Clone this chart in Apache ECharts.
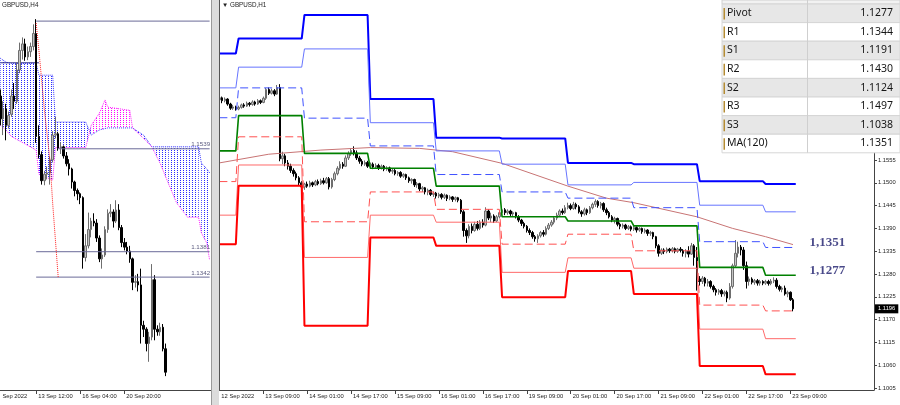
<!DOCTYPE html>
<html><head><meta charset="utf-8">
<script src="https://cdn.jsdelivr.net/npm/echarts@6/dist/echarts.min.js"></script>
<style>html,body{margin:0;padding:0;background:#fff;overflow:hidden}
#wrap{position:relative;width:900px;height:405px;background:#fff}
#left{position:absolute;left:0;top:0;width:219px;height:405px}
#right{position:absolute;left:219px;top:0;width:681px;height:405px}</style>
</head><body><div id="wrap"><div id="left"></div><div id="right"></div></div>
<script>
// All prices below are stored in units of 0.0001 above 1.0000 (1277 -> 1.1277)
const P = v => +(1 + v / 10000).toFixed(5);

// ================= RIGHT CHART: GBPUSD,H1 =================
const rTickLabels = ['12 Sep 2022','13 Sep 09:00','14 Sep 01:00','14 Sep 17:00','15 Sep 09:00','16 Sep 01:00','16 Sep 17:00','19 Sep 09:00','20 Sep 01:00','20 Sep 17:00','21 Sep 09:00','22 Sep 01:00','22 Sep 17:00','23 Sep 09:00'];
const rBarsPerLabel = 16;
const rSlots = 239;
const rPriceTicks = [1.1005,1.1060,1.1115,1.1170,1.1225,1.1280,1.1335,1.1390,1.1445,1.1500,1.1555];
// [open, close, low, high]
const rCandles = [
[1700,1705,1695,1710],[1705,1698,1692,1708],[1698,1702,1694,1706],[1702,1690,1686,1704],[1690,1680,1676,1693],[1680,1683,1676,1688],[1683,1678,1674,1686],[1678,1682,1675,1686],[1682,1688,1679,1691],[1688,1685,1681,1692],
[1685,1692,1683,1696],[1692,1689,1684,1695],[1689,1695,1686,1699],[1695,1690,1686,1698],[1690,1698,1688,1702],[1698,1694,1690,1701],[1694,1704,1692,1708],[1704,1725,1700,1729],[1725,1716,1712,1730],[1716,1722,1713,1727],
[1722,1714,1709,1726],[1714,1730,1712,1736],[1730,1558,1552,1738],[1558,1565,1545,1575],[1565,1548,1540,1570],[1548,1540,1532,1555],[1540,1530,1524,1546],[1530,1522,1515,1535],[1522,1512,1506,1527],[1512,1500,1494,1516],
[1500,1490,1484,1504],[1490,1497,1483,1500],[1497,1492,1488,1503],[1492,1500,1489,1505],[1500,1495,1490,1503],[1495,1503,1492,1507],[1503,1498,1494,1508],[1498,1505,1495,1510],[1505,1500,1496,1512],[1500,1510,1498,1514],
[1510,1490,1484,1514],[1490,1508,1486,1512],[1508,1522,1504,1527],[1522,1535,1518,1540],[1535,1545,1530,1552],[1545,1540,1534,1550],[1540,1560,1538,1566],[1560,1570,1555,1576],[1570,1578,1565,1584],[1578,1572,1566,1588],
[1572,1560,1555,1578],[1560,1552,1546,1565],[1552,1545,1540,1557],[1545,1549,1541,1554],[1549,1540,1536,1553],[1540,1545,1536,1549],[1545,1538,1533,1549],[1538,1542,1534,1547],[1542,1536,1531,1546],[1536,1540,1532,1544],
[1540,1533,1528,1543],[1533,1536,1529,1540],[1536,1528,1524,1539],[1528,1530,1522,1534],[1530,1522,1518,1533],[1522,1525,1517,1528],[1525,1516,1512,1528],[1516,1520,1512,1523],[1520,1512,1507,1522],[1512,1505,1500,1515],
[1505,1508,1498,1511],[1508,1495,1490,1510],[1495,1498,1488,1502],[1498,1485,1480,1500],[1485,1488,1478,1492],[1488,1478,1472,1490],[1478,1482,1470,1486],[1482,1472,1468,1485],[1472,1475,1466,1479],[1475,1468,1462,1478],
[1468,1472,1463,1476],[1472,1465,1460,1475],[1465,1470,1461,1474],[1470,1462,1456,1472],[1462,1466,1458,1470],[1466,1460,1454,1468],[1460,1464,1455,1467],[1464,1458,1453,1466],[1458,1430,1425,1461],[1430,1385,1370,1434],
[1385,1372,1355,1390],[1372,1395,1366,1400],[1395,1385,1378,1402],[1385,1400,1382,1406],[1400,1390,1385,1408],[1390,1405,1386,1410],[1405,1398,1392,1412],[1398,1432,1395,1441],[1432,1415,1410,1436],[1415,1420,1405,1428],
[1420,1408,1403,1424],[1408,1418,1405,1422],[1418,1428,1414,1433],[1428,1435,1422,1440],[1435,1428,1422,1439],[1428,1432,1423,1436],[1432,1425,1420,1435],[1425,1428,1418,1431],[1428,1418,1414,1430],[1418,1410,1405,1422],
[1410,1402,1396,1413],[1402,1395,1390,1406],[1395,1385,1380,1398],[1385,1380,1374,1390],[1380,1370,1365,1384],[1370,1365,1358,1374],[1365,1372,1355,1376],[1372,1380,1368,1384],[1380,1376,1370,1386],[1376,1390,1373,1395],
[1390,1398,1386,1403],[1398,1405,1394,1410],[1405,1415,1400,1420],[1415,1422,1410,1428],[1422,1432,1418,1436],[1432,1428,1423,1438],[1428,1440,1425,1446],[1440,1445,1436,1452],[1445,1438,1434,1450],[1438,1448,1435,1454],
[1448,1442,1436,1452],[1442,1430,1426,1446],[1430,1425,1418,1434],[1425,1435,1421,1440],[1435,1428,1422,1438],[1428,1440,1425,1444],[1440,1448,1436,1452],[1448,1455,1442,1460],[1455,1445,1440,1458],[1445,1450,1438,1454],
[1450,1435,1430,1453],[1435,1428,1422,1440],[1428,1418,1414,1432],[1418,1410,1405,1422],[1410,1414,1402,1418],[1414,1400,1395,1416],[1400,1395,1388,1404],[1395,1398,1390,1402],[1398,1390,1386,1401],[1390,1394,1386,1398],
[1394,1388,1383,1397],[1388,1392,1384,1396],[1392,1386,1380,1395],[1386,1390,1382,1393],[1390,1382,1377,1392],[1382,1386,1378,1390],[1386,1378,1372,1388],[1378,1380,1372,1384],[1380,1370,1364,1382],[1370,1348,1342,1372],
[1348,1330,1322,1352],[1330,1338,1326,1342],[1338,1334,1328,1342],[1334,1340,1330,1344],[1340,1336,1331,1343],[1336,1341,1332,1345],[1341,1335,1330,1344],[1335,1340,1331,1343],[1340,1337,1332,1345],[1337,1330,1322,1340],
[1330,1335,1320,1340],[1335,1328,1320,1347],[1328,1348,1326,1355],[1348,1320,1300,1352],[1320,1268,1240,1345],[1268,1262,1252,1275],[1262,1270,1256,1275],[1270,1258,1250,1273],[1258,1262,1250,1268],[1262,1250,1245,1265],
[1250,1242,1236,1254],[1242,1236,1228,1246],[1236,1240,1230,1244],[1240,1232,1225,1244],[1232,1236,1226,1240],[1236,1222,1212,1240],[1222,1250,1218,1258],[1250,1300,1245,1305],[1300,1330,1295,1362],[1330,1345,1320,1358],
[1345,1338,1325,1350],[1338,1300,1290,1345],[1300,1262,1245,1310],[1262,1268,1252,1274],[1268,1260,1255,1272],[1260,1264,1254,1268],[1264,1258,1252,1268],[1258,1262,1252,1266],[1262,1258,1253,1265],[1258,1262,1254,1266],
[1262,1257,1252,1266],[1257,1263,1253,1268],[1263,1265,1258,1272],[1265,1250,1245,1270],[1250,1243,1238,1254],[1243,1246,1236,1250],[1246,1232,1228,1252],[1232,1236,1224,1240],[1236,1218,1215,1238],[1218,1196,1190,1222]
];
// daily pivot levels (one value per trading day)
const dayStart = [0,7,31,55,79,103,127,151,175,199];
const dayEnd   = [6,30,54,78,102,126,150,174,198,210];
const lvR3 = [1812,1848,1905,1702,1609,1607,1548,1545,1504,1497];
const lvR2 = [1729,1779,1823,1645,1577,1545,1495,1501,1446,1430];
const lvR1 = [1657,1729,1656,1589,1520,1478,1463,1440,1358,1344];
const lvP  = [1577,1662,1571,1535,1492,1418,1408,1396,1296,1277];
const lvS1 = [1503,1611,1406,1478,1436,1352,1376,1336,1205,1191];
const lvS2 = [1422,1543,1320,1422,1405,1284,1319,1294,1147,1124];
const lvS3 = [1352,1493,1155,1368,1348,1224,1287,1232,1058,1038];
// MA(120) read at bar indices
const maIdx = [0,18,37,55,73,85,103,127,141,151,174,187,199,209];
const maVal = [1548,1569,1579,1585,1583,1575,1547,1492,1463,1452,1418,1390,1370,1351];
// right side annotations
const annotVals = [1351, 1277];
// table
const tableNames  = ['Pivot','R1','S1','R2','S2','R3','S3','MA(120)'];
const tableValues = ['1.1277','1.1344','1.1191','1.1430','1.1124','1.1497','1.1038','1.1351'];

// ================= LEFT CHART: GBPUSD,H4 =================
const lTickIdx = [0,13,29,45];
const lTickLabels = ['Sep 2022','13 Sep 12:00','16 Sep 04:00','20 Sep 20:00'];
const lSlots = 77;
const lCandles = [
[1620,1585,1575,1630],[1585,1600,1560,1612],[1600,1575,1552,1608],[1575,1590,1570,1596],[1592,1620,1588,1630],[1620,1612,1600,1640],[1612,1660,1608,1672],[1660,1690,1655,1702],[1690,1700,1676,1710],[1700,1680,1674,1708],
[1680,1688,1675,1696],[1688,1696,1680,1702],[1696,1716,1690,1730],[1716,1558,1548,1738],[1558,1530,1524,1575],[1530,1490,1484,1535],[1490,1500,1483,1505],[1500,1502,1492,1512],[1502,1522,1484,1527],[1522,1560,1518,1566],
[1560,1562,1555,1588],[1562,1540,1536,1565],[1540,1542,1531,1549],[1542,1528,1524,1544],[1528,1516,1512,1534],[1516,1508,1498,1523],[1508,1488,1478,1510],[1488,1475,1466,1490],[1475,1470,1460,1478],[1470,1464,1454,1472],
[1464,1372,1355,1466],[1372,1390,1366,1408],[1390,1415,1386,1441],[1415,1428,1403,1433],[1428,1425,1420,1440],[1425,1402,1396,1431],[1402,1370,1365,1406],[1370,1376,1355,1386],[1376,1415,1373,1420],[1415,1440,1410,1446],
[1440,1442,1434,1454],[1442,1428,1418,1446],[1428,1445,1425,1460],[1445,1418,1414,1454],[1418,1395,1388,1422],[1395,1388,1383,1402],[1388,1382,1377,1396],[1382,1370,1364,1390],[1370,1334,1322,1372],[1334,1335,1326,1345],
[1335,1330,1320,1347],[1330,1268,1240,1355],[1268,1262,1250,1275],[1262,1240,1228,1265],[1240,1250,1212,1258],[1250,1338,1245,1362],[1338,1262,1245,1345],[1262,1258,1252,1268],[1258,1265,1252,1272],[1265,1232,1228,1270],
[1232,1196,1190,1240]
];
// Ichimoku cloud spans at break points
const cloudK    = [0,2,4,13,14,19,20,31,33,36,38,39,47,48,52,55,58,61,64,66,68,72,73,75,76];
const cloudBlue = [1678,1672,1670,1670,1652,1652,1580,1580,1560,1568,1570,1571,1571,1571,1560,1542,1542,1542,1542,1542,1542,1542,1517,1508,1502];
const cloudMag  = [1575,1568,1558,1537,1500,1491,1541,1541,1575,1594,1614,1603,1598,1571,1555,1542,1517,1486,1456,1445,1434,1434,1410,1394,1368];
// horizontal levels on the H4 chart
const lLevels    = [1735,1539,1381,1342];
const lLevelFrom = [13,21,13,13];
const lLevelText = ['','1.1539','1.1381','1.1342'];
// red dotted line and navy line
const lRedIdx = [13,14,16,18,19,21];
const lRedVal = [1732,1690,1598,1522,1455,1342];
const lNavyIdx = [0,14];
const lNavyVal = [1671,1671];

// ---------------- build ----------------
const FONT = 'Liberation Sans';
function dotPattern(color) {
  const c = document.createElement('canvas'); c.width = 3; c.height = 2;
  const g = c.getContext('2d'); g.fillStyle = color; g.fillRect(0, 0, 1, 1);
  return { image: c, repeat: 'repeat' };
}
const bluePat = dotPattern('#2a2aff');
const magPat = dotPattern('#ff00ff');
const rCats = Array.from({ length: rSlots }, (_, i) => String(i));
const lCats = Array.from({ length: lSlots }, (_, i) => String(i));
const candleStyle = { color: '#c4c4c4', color0: '#000000', borderColor: '#6e6e6e', borderColor0: '#000000', borderWidth: 1 };
const axisTxt = { fontSize: 5.8, fontFamily: FONT, color: '#222' };
const lastClose = P(rCandles[rCandles.length - 1][1]);

function stepLine(vals) {
  const out = [];
  for (let d = 0; d < dayStart.length; d++) {
    out.push([dayStart[d], P(vals[d])]);
    out.push([dayEnd[d], P(vals[d])]);
  }
  return out;
}
const pivotDefs = [
  { vals: lvR3, color: '#0000ff', width: 2, type: 'solid' },
  { vals: lvR2, color: '#6674ff', width: 1, type: 'solid' },
  { vals: lvR1, color: '#3f52ff', width: 1, type: [8, 4] },
  { vals: lvP,  color: '#008000', width: 1.6, type: 'solid' },
  { vals: lvS1, color: '#ff5050', width: 1, type: [8, 4] },
  { vals: lvS2, color: '#ff6a6a', width: 1, type: 'solid' },
  { vals: lvS3, color: '#ff0000', width: 2, type: 'solid' }
];
const cloudSegs = [];
for (let j = 0; j < cloudK.length - 1; j++) {
  cloudSegs.push([cloudK[j], P(cloudMag[j]), P(cloudBlue[j]), cloudK[j + 1], P(cloudMag[j + 1]), P(cloudBlue[j + 1])]);
}

// ---------- left instance ----------
const lSeries = [];
lSeries.push({
  type: 'custom', data: cloudSegs, silent: true, z: 1, clip: false,
  encode: { x: [0, 3], y: [1, 2, 4, 5] },
  renderItem: (params, api) => {
    const k1 = api.value(0), m1 = api.value(1), b1 = api.value(2), k2 = api.value(3), m2 = api.value(4), b2 = api.value(5);
    const pts = [api.coord([k1, m1]), api.coord([k2, m2]), api.coord([k2, b2]), api.coord([k1, b1])];
    const magTop = (m1 + m2) > (b1 + b2);
    return { type: 'polygon', shape: { points: pts }, style: { fill: magTop ? magPat : bluePat } };
  }
});
lSeries.push({ type: 'line', symbol: 'none', silent: true, z: 2, clip: false,
  data: cloudK.map((k, j) => [k, P(cloudBlue[j])]), lineStyle: { color: '#3b3bff', width: 1, type: 'dotted' } });
lSeries.push({ type: 'line', symbol: 'none', silent: true, z: 2, clip: false,
  data: cloudK.map((k, j) => [k, P(cloudMag[j])]), lineStyle: { color: '#ff22ff', width: 1, type: 'dotted' } });
lSeries.push({ type: 'line', symbol: 'none', silent: true, z: 3, clip: false,
  data: lNavyIdx.map((k, j) => [k, P(lNavyVal[j])]), lineStyle: { color: '#2b2b8a', width: 1 } });
lSeries.push({ type: 'candlestick', barWidth: 2, silent: true, z: 4, clip: false,
  data: lCandles.map(c => c.map(P)), itemStyle: candleStyle });
lLevels.forEach((v, j) => {
  lSeries.push({ type: 'line', symbol: 'none', silent: true, z: 5, clip: false,
    data: [[lLevelFrom[j], P(v)], [lSlots - 1, P(v)]], lineStyle: { color: '#6a6a98', width: 1 } });
});
lSeries.push({ type: 'scatter', symbolSize: 1, silent: true, z: 6, clip: false,
  itemStyle: { color: 'rgba(0,0,0,0)' },
  data: lLevels.map((v, j) => ({ value: [lSlots - 1, P(v)], name: lLevelText[j] })),
  label: { show: true, position: 'left', distance: 0, offset: [1, -4], align: 'right', verticalAlign: 'middle',
    formatter: p => p.name, fontSize: 6.2, fontFamily: FONT, color: '#2e2e5c' } });
lSeries.push({ type: 'line', symbol: 'none', silent: true, z: 6, clip: false,
  data: lRedIdx.map((k, j) => [k, P(lRedVal[j])]), lineStyle: { color: '#ff2020', width: 1, type: 'dotted' } });

const lOption = {
  animation: false,
  backgroundColor: '#ffffff',
  grid: { left: -1, top: 0, width: 212, height: 390, containLabel: false, outerBoundsMode: 'none' },
  xAxis: { type: 'category', data: lCats, boundaryGap: true,
    axisLine: { show: true, lineStyle: { color: '#444', width: 1 } },
    axisTick: { show: true, alignWithLabel: true, length: 4, interval: i => lTickIdx.indexOf(i) > 0, lineStyle: { color: '#444' } },
    axisLabel: Object.assign({ interval: i => lTickIdx.indexOf(i) >= 0, formatter: (v, i) => lTickLabels[lTickIdx.indexOf(i)] || '', align: 'left', margin: 3, padding: [0, 0, 0, 2] }, axisTxt),
    splitLine: { show: false } },
  yAxis: { type: 'value', min: 1.11687, max: 1.17674, show: false, splitLine: { show: false } },
  series: lSeries,
  graphic: [
    { type: 'rect', shape: { x: 211, y: 0, width: 8, height: 405 }, style: { fill: '#dcdcdc' }, z: 90 },
    { type: 'rect', shape: { x: 211, y: 0, width: 1, height: 405 }, style: { fill: '#9a9a9a' }, z: 91 },
    { type: 'text', x: 2, y: 2, style: { text: 'GBPUSD,H4', font: '6.3px "' + FONT + '"', fill: '#222' }, z: 95 }
  ]
};

// ---------- right instance ----------
const rSeries = [];
rSeries.push({ type: 'candlestick', barWidth: 2, silent: true, z: 3, clip: false,
  data: rCandles.map(c => c.map(P)), itemStyle: candleStyle,
  markLine: { silent: true, symbol: ['none', 'none'], animation: false, precision: 4,
    data: [{ yAxis: lastClose }], lineStyle: { color: 'rgba(0,0,0,0)', width: 0 },
    label: { show: true, position: 'end', distance: 1, formatter: () => lastClose.toFixed(4), color: '#fff',
      backgroundColor: '#000', padding: [2, 3, 1, 3], fontSize: 5.8, fontFamily: FONT } } });
rSeries.push({ type: 'line', symbol: 'none', silent: true, z: 4, clip: false,
  data: maIdx.map((k, j) => [k, P(maVal[j])]), lineStyle: { color: '#c87474', width: 1 } });
pivotDefs.forEach(d => {
  rSeries.push({ type: 'line', symbol: 'none', silent: true, z: 5, clip: false,
    data: stepLine(d.vals), lineStyle: { color: d.color, width: d.width, type: d.type } });
});
const annotDy = [-2, -4.5];
rSeries.push({ type: 'scatter', symbolSize: 1, silent: true, z: 6, clip: false,
  itemStyle: { color: 'rgba(0,0,0,0)' },
  data: annotVals.map((v, j) => ({ value: [213, P(v)], label: { offset: [0, annotDy[j]] } })),
  label: { show: true, position: 'right', distance: 5, formatter: p => p.value[1].toFixed(4).replace('.', ','),
    fontFamily: 'Liberation Serif', fontWeight: 'bold', fontSize: 13, color: '#1c1c6c' } });

const OX = 219; // page x of the right instance
const rGraphic = [];
rGraphic.push({ type: 'rect', shape: { x: 0, y: 0, width: 1, height: 391 }, style: { fill: '#555555' }, z: 91 });
rGraphic.push({ type: 'text', x: 3, y: 2, style: { text: '\u25BC GBPUSD,H1', font: '6.3px "' + FONT + '"', fill: '#222' }, z: 95 });
const tX = 722 - OX, tY = 4, tW = 178, rowH = 18.6, divX = 807 - OX;
rGraphic.push({ type: 'rect', shape: { x: tX, y: 0, width: tW, height: tY }, style: { fill: '#f2f2f2', stroke: '#d0d0d0', lineWidth: 1 }, z: 100 });
tableNames.forEach((n, r) => {
  const y = tY + r * rowH;
  rGraphic.push({ type: 'rect', shape: { x: tX, y: y, width: tW, height: rowH }, style: { fill: r % 2 === 0 ? '#e7e7e7' : '#ffffff', stroke: '#d6d6d6', lineWidth: 1 }, z: 100 });
  rGraphic.push({ type: 'rect', shape: { x: tX + 1.5, y: y + 4, width: 1.5, height: rowH - 7 }, style: { fill: '#b48c34' }, z: 101 });
  rGraphic.push({ type: 'text', x: tX + 5, y: y + rowH / 2, style: { text: n, font: '10.5px "Noto Sans"', fill: '#151515', verticalAlign: 'middle', textVerticalAlign: 'middle' }, z: 102 });
  rGraphic.push({ type: 'text', x: tX + 171, y: y + rowH / 2, style: { text: tableValues[r], font: '10.5px "Noto Sans"', fill: '#151515', align: 'right', textAlign: 'right', verticalAlign: 'middle', textVerticalAlign: 'middle' }, z: 102 });
});
rGraphic.push({ type: 'rect', shape: { x: divX, y: 0, width: 1, height: tY + tableNames.length * rowH }, style: { fill: '#cfcfcf' }, z: 101 });

const rOption = {
  animation: false,
  backgroundColor: 'rgba(0,0,0,0)',
  grid: { left: -1, top: 0, width: 656, height: 390, containLabel: false, outerBoundsMode: 'none' },
  xAxis: { type: 'category', data: rCats, boundaryGap: true,
    axisLine: { show: true, lineStyle: { color: '#444', width: 1 } },
    axisTick: { show: true, alignWithLabel: true, length: 4, interval: i => i > 0 && i % rBarsPerLabel === 0 && i / rBarsPerLabel < rTickLabels.length, lineStyle: { color: '#444' } },
    axisLabel: Object.assign({ interval: i => i % rBarsPerLabel === 0 && i / rBarsPerLabel < rTickLabels.length, formatter: (v, i) => rTickLabels[i / rBarsPerLabel] || '', align: 'left', margin: 3, padding: [0, 0, 0, 2] }, axisTxt),
    splitLine: { show: false } },
  yAxis: { type: 'value', position: 'right', min: 1.10002, max: 1.19410,
    axisLine: { show: true, lineStyle: { color: '#444', width: 1 } },
    axisTick: { show: true, length: 3, customValues: rPriceTicks, lineStyle: { color: '#444' } },
    axisLabel: Object.assign({ customValues: rPriceTicks, formatter: v => (+v).toFixed(4), margin: 4 }, axisTxt),
    splitLine: { show: false } },
  series: rSeries,
  graphic: rGraphic
};

const lChart = echarts.init(document.getElementById('left'), null, { renderer: 'canvas' });
lChart.setOption(lOption);
const rChart = echarts.init(document.getElementById('right'), null, { renderer: 'canvas' });
rChart.setOption(rOption);
</script>
</body></html>
